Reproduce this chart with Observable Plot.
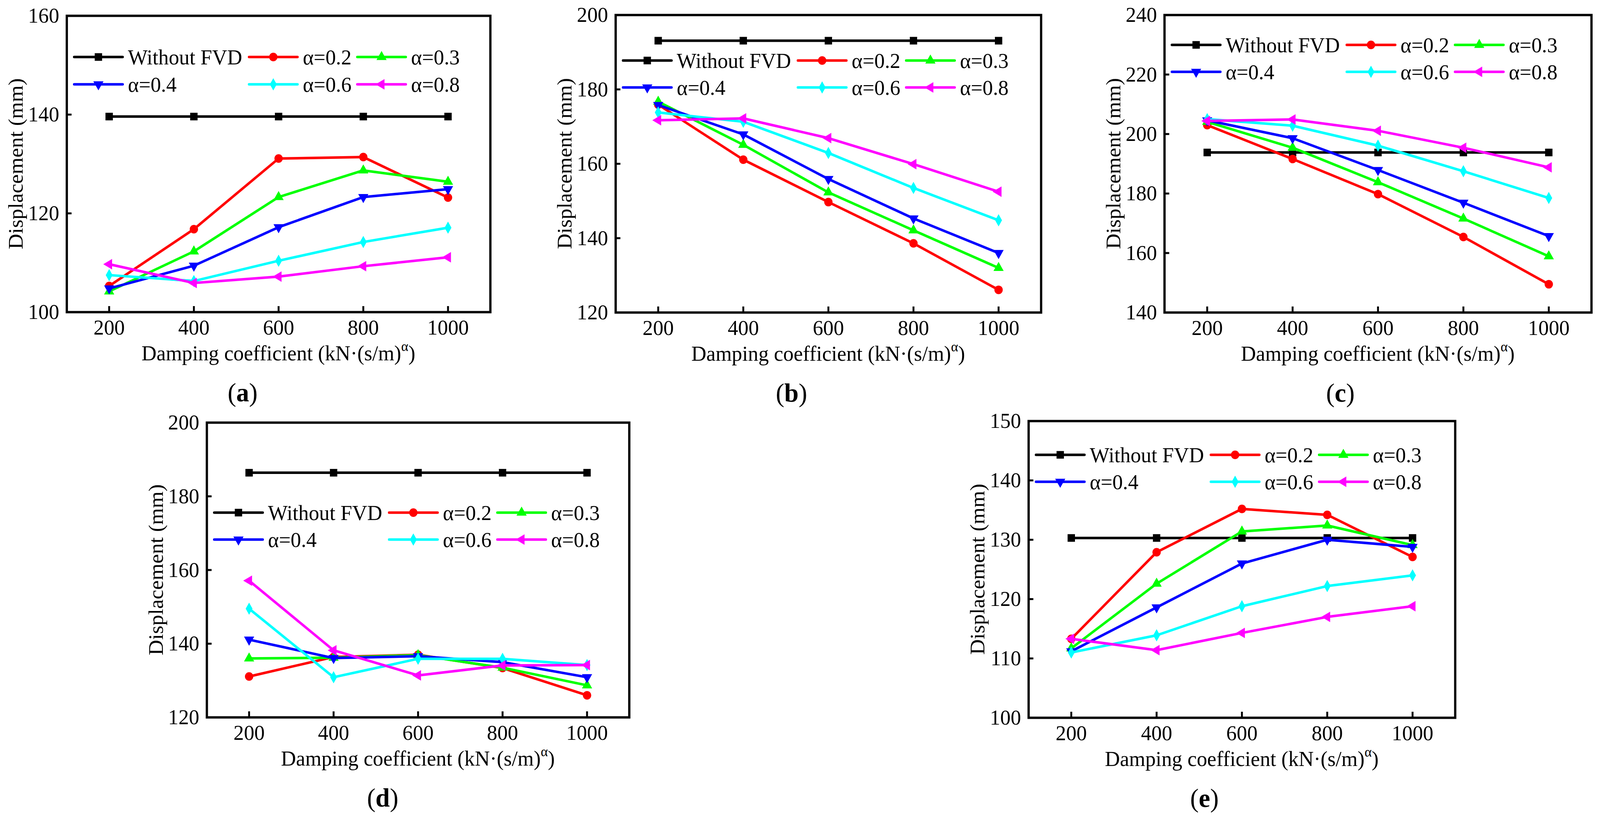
<!DOCTYPE html>
<html>
<head>
<meta charset="utf-8">
<script src="https://cdn.jsdelivr.net/npm/d3@7"></script>
<script src="https://cdn.jsdelivr.net/npm/@observablehq/plot@0.6"></script>
<style>
  html, body { margin: 0; padding: 0; background: white; overflow: hidden; }
  #chart { position: relative; width: 4227px; height: 2108px; background: white; transform-origin: 0 0; }
  #chart svg { position: absolute; max-width: none; overflow: visible; }
</style>
</head>
<body>
<div id="chart"></div>
<script>
// damping coefficient kN·(s/m)^α
const coef = [200, 400, 600, 800, 1000]
const series = ["Without FVD", "α=0.2", "α=0.3", "α=0.4", "α=0.6", "α=0.8"]
const colors = ["#000000", "#ff0000", "#00ff00", "#0000ff", "#00ffff", "#ff00ff"]
const symbols = ["square", "circle", "triangle", "triangle", "diamond", "triangle"]
const rotations = [0, 0, 0, 180, 0, -90]
const radii = [11, 11, 10, 10, 9.5, 10]

// displacement (mm), one row per series, columns follow coef
const dispA = [
  [139.6, 139.6, 139.6, 139.6, 139.6],
  [105.3, 116.8, 131.1, 131.4, 123.2],
  [104.2, 112.3, 123.3, 128.7, 126.4],
  [104.8, 109.4, 117.2, 123.3, 124.9],
  [107.5, 106.3, 110.4, 114.2, 117.1],
  [109.7, 105.9, 107.2, 109.3, 111.1]
]
const dispB = [
  [193.1, 193.1, 193.1, 193.1, 193.1],
  [175.9, 161.1, 149.7, 138.6, 126.1],
  [176.7, 165.1, 152.3, 142.1, 132.0],
  [175.8, 167.9, 155.9, 145.3, 136.0],
  [173.8, 171.3, 162.9, 153.5, 144.8],
  [171.7, 172.2, 166.9, 159.9, 152.5]
]
const dispC = [
  [193.8, 193.8, 193.8, 193.8, 193.8],
  [203.0, 191.6, 179.8, 165.4, 149.5],
  [204.1, 195.4, 183.8, 171.6, 158.9],
  [204.6, 198.6, 187.9, 176.9, 165.7],
  [205.0, 202.8, 196.1, 187.5, 178.5],
  [204.4, 204.9, 201.1, 195.4, 188.8]
]
const dispD = [
  [186.4, 186.4, 186.4, 186.4, 186.4],
  [131.1, 136.4, 137.0, 133.4, 126.0],
  [136.0, 136.2, 136.9, 133.5, 128.7],
  [141.1, 136.1, 136.6, 135.0, 130.9],
  [149.5, 130.9, 135.9, 135.9, 134.2],
  [157.1, 138.2, 131.4, 134.1, 134.2]
]
const dispE = [
  [130.3, 130.3, 130.3, 130.3, 130.3],
  [113.3, 127.9, 135.2, 134.2, 127.1],
  [111.7, 122.6, 131.4, 132.4, 129.1],
  [111.2, 118.6, 126.0, 130.0, 128.8],
  [111.0, 113.9, 118.8, 122.2, 124.0],
  [113.3, 111.4, 114.3, 117.0, 118.8]
]

const yTicksA = [100, 120, 140, 160]
const yTicksB = [120, 140, 160, 180, 200]
const yTicksC = [140, 160, 180, 200, 220, 240]
const yTicksD = [120, 140, 160, 180, 200]
const yTicksE = [100, 110, 120, 130, 140, 150]

const font = "'Liberation Serif', 'Times New Roman', serif"
const container = document.getElementById("chart")

// fit the 4227x2108 layout to whatever viewport we get
container.style.transform = `scale(${window.innerWidth / 4227}, ${window.innerHeight / 2108})`

// frame position in page pixels, legend row offsets from frame top
const panels = [
  {tag: "a", disp: dispA, ticks: yTicksA, left: 176, top: 40, w: 1119, h: 759, svgTop: 0, rows: [106, 176], right: 60},
  {tag: "b", disp: dispB, ticks: yTicksB, left: 1626, top: 38, w: 1124, h: 762, svgTop: 0, rows: [117, 186], right: 60},
  {tag: "c", disp: dispC, ticks: yTicksC, left: 3076, top: 38, w: 1128, h: 762, svgTop: 0, rows: [77, 146], right: 23},
  {tag: "d", disp: dispD, ticks: yTicksD, left: 546, top: 1082, w: 1116, h: 755, svgTop: 1042, rows: [231, 300], right: 60},
  {tag: "e", disp: dispE, ticks: yTicksE, left: 2717, top: 1078, w: 1127, h: 760, svgTop: 1042, rows: [87, 156], right: 60}
]

const d3Symbols = {square: d3.symbolSquare, circle: d3.symbolCircle, triangle: d3.symbolTriangle, diamond: d3.symbolDiamond}

// a row of text pieces, centred on cx, each piece its own <text>
function textRow(svg, cx, y, pieces) {
  const nodes = pieces.map(p => svg.append("text")
    .attr("y", y + (p.dy || 0))
    .attr("text-anchor", "start")
    .attr("font-family", font).attr("font-size", p.size).attr("font-weight", p.weight || "normal")
    .attr("fill", "black")
    .text(p.text))
  const widths = nodes.map(n => n.node().getComputedTextLength())
  let x = cx - d3.sum(widths) / 2
  nodes.forEach((n, i) => { n.attr("x", x); x += widths[i] })
}

panels.forEach(p => {
  const data = series.flatMap((s, i) => coef.map((c, j) => ({series: s, coef: c, disp: p.disp[i][j]})))
  const ml = 176
  const mt = p.top - p.svgTop
  const mb = 240

  const chart = Plot.plot({
    width: ml + p.w + p.right,
    height: mt + p.h + mb,
    marginLeft: ml,
    marginRight: p.right,
    marginTop: mt,
    marginBottom: mb,
    style: {fontFamily: font, fontSize: "55px", color: "black", background: "transparent", overflow: "visible"},
    x: {domain: [100, 1100]},
    y: {domain: d3.extent(p.ticks)},
    marks: [
      Plot.ruleX(coef, {x: d => d, insetTop: p.h - 15, stroke: "black", strokeWidth: 5}),
      Plot.ruleY(p.ticks, {y: d => d, insetRight: p.w - 13, stroke: "black", strokeWidth: 5}),
      Plot.axisX({ticks: coef, tickSize: 0, tickPadding: 18, tickFormat: d => String(d), label: null}),
      Plot.axisY({ticks: p.ticks, tickSize: 0, tickPadding: 20, tickFormat: d => String(d), label: null}),
      ...series.flatMap((s, i) => [
        Plot.line(data.filter(d => d.series === s), {x: "coef", y: "disp", stroke: colors[i], strokeWidth: 6.5}),
        Plot.dot(data.filter(d => d.series === s), {
          x: "coef", y: "disp", symbol: symbols[i], r: radii[i], fill: colors[i], stroke: "none", rotate: rotations[i]
        })
      ]),
      Plot.frame({stroke: "black", strokeWidth: 6})
    ]
  })

  chart.style.left = (p.left - ml) + "px"
  chart.style.top = p.svgTop + "px"
  container.appendChild(chart)

  const svg = d3.select(chart)

  // legend, two rows of three
  const colX = [20, 482, 768]
  const lg = svg.append("g").attr("transform", `translate(${ml},${mt})`)
  series.forEach((s, i) => {
    const x0 = colX[i % 3]
    const y0 = p.rows[Math.floor(i / 3)]
    lg.append("line")
      .attr("x1", x0).attr("x2", x0 + 128).attr("y1", y0).attr("y2", y0)
      .attr("stroke", colors[i]).attr("stroke-width", 6.5).attr("stroke-linecap", "round")
    lg.append("path")
      .attr("d", d3.symbol(d3Symbols[symbols[i]], Math.PI * radii[i] * radii[i])())
      .attr("transform", `translate(${x0 + 64},${y0}) rotate(${rotations[i]})`)
      .attr("fill", colors[i])
    lg.append("text")
      .attr("x", x0 + 142).attr("y", y0).attr("dy", "0.34em")
      .attr("text-anchor", "start")
      .attr("font-family", font).attr("font-size", 55).attr("fill", "black")
      .text(s)
  })

  // x title with superscript alpha
  textRow(svg, ml + p.w / 2, mt + p.h + 124, [
    {text: "Damping coefficient (kN·(s/m)", size: 55},
    {text: "α", size: 36, dy: -24},
    {text: ")", size: 55}
  ])

  // y title
  svg.append("text")
    .attr("transform", `translate(${ml - 116},${mt + p.h / 2}) rotate(-90)`)
    .attr("text-anchor", "middle")
    .attr("font-family", font).attr("font-size", 55).attr("fill", "black")
    .text("Displacement (mm)")

  // panel tag
  textRow(svg, ml + 465, mt + p.h + 229, [
    {text: "(", size: 68},
    {text: p.tag, size: 68, weight: "bold"},
    {text: ")", size: 68}
  ])
})
</script>
</body>
</html>
